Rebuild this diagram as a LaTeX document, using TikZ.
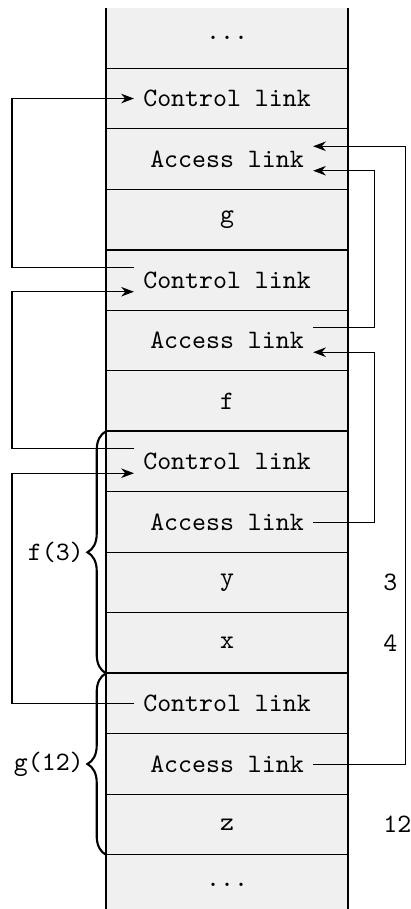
\documentclass[tikz,border=0pt]{standalone}
\usepackage{tikz}
\usetikzlibrary{arrows.meta}
\usetikzlibrary{decorations.pathreplacing}

\newcommand{\etcdots}{...}

\begin{document}
\begin{tikzpicture}[font=\ttfamily]
        \tikzstyle{link}=[-Stealth]
        \tikzstyle{frame}=[decorate, decoration={brace, amplitude=7pt}, thick]
        \tikzstyle{value}=[anchor=west]

        \useasboundingbox (-1.402,0.103) rectangle (4.02,-11.917);

        % the stack
        \fill[gray!12] (0,0) rectangle (3.2,-11.917);
        \draw (0,0) -- (0,-11.917);
        \draw (3.2,0) -- (3.2,-11.917);
        \foreach \i in {1,...,14}
            \draw (0,-0.8*\i) -- (3.2,-0.8*\i);
        \foreach \i in {4,7,11}
            \draw[thick] (0,-0.8*\i) -- (3.2,-0.8*\i);

        \foreach \txt [count=\i from 0] in {\etcdots,Control link,Access link,g,Control link,Access link,f,Control link,Access link,y,x,Control link,Access link,z,\etcdots}
            \node (t\i) at (1.6,-0.4-0.8*\i) {\txt};

        \node[value] (v3) at (3.544,-7.6) {3};
        \node[value] (v4) at (3.544,-8.4) {4};
        \node[value] (v12) at (3.544,-10.8) {12};

        % link routes
        \coordinate (lft) at (-1.243,0);
        \coordinate (rin) at (3.544,0);
        \coordinate (rout) at (3.954,0);

        \coordinate (cl4a) at ([yshift=4.8pt]t4.west);
        \coordinate (cl4b) at ([yshift=-4.4pt]t4.west);
        \coordinate (cl7a) at ([yshift=4.8pt]t7.west);
        \coordinate (cl7b) at ([yshift=-4.4pt]t7.west);
        \coordinate (al2a) at ([yshift=4.8pt]t2.east);
        \coordinate (al2b) at ([yshift=-4.4pt]t2.east);
        \coordinate (al5a) at ([yshift=4.8pt]t5.east);
        \coordinate (al5b) at ([yshift=-4.4pt]t5.east);

        % control links
        \draw[link] (cl4a) -- (cl4a -| lft) |- (t1.west);
        \draw[link] (cl7a) -- (cl7a -| lft) |- (cl4b);
        \draw[link] (t11.west) -- (t11.west -| lft) |- (cl7b);

        % access links
        \draw[link] (al5a) -- (al5a -| rin) |- (al2b);
        \draw[link] (t8.east) -- (t8.east -| rin) |- (al5b);
        \draw[link] (t12.east) -- (t12.east -| rout) |- (al2a);

        % frames
        \draw[frame] (0,-8.8) -- (0,-5.6)
            node[midway, left=7pt, inner sep=1pt] (f3) {f(3)};
        \draw[frame] (0,-11.2) -- (0,-8.8)
            node[midway, left=7pt, inner sep=1pt] (g12) {g(12)};
\end{tikzpicture}
\end{document}
